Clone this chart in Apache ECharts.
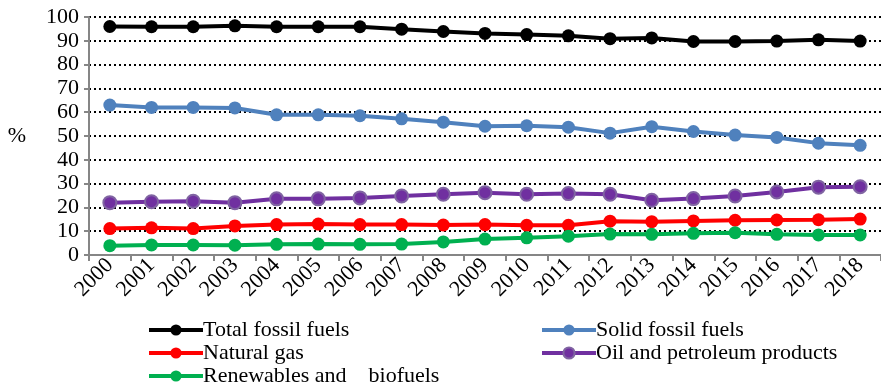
<!DOCTYPE html>
<html lang="en">
<head>
    <meta charset="UTF-8">
    <title>Fossil fuels share</title>
    <script src="https://cdn.jsdelivr.net/npm/echarts@6/dist/echarts.min.js"></script>
    <style type="text/css">
        body{
            margin: 0px;
            padding: 0px;
            background: #fff;
        }
        #chart{
            width: 881px;
            height: 384px;
        }
    </style>
</head>
<body>
<div id="chart"></div>
<script type="text/javascript">
    var years = ['2000','2001','2002','2003','2004','2005','2006','2007','2008','2009',
                 '2010','2011','2012','2013','2014','2015','2016','2017','2018'];
    var totalFossil = [96.0, 95.9, 95.9, 96.3, 95.9, 95.9, 95.9, 94.9, 93.9, 93.1,
                       92.6, 92.1, 90.9, 91.2, 89.7, 89.7, 89.9, 90.4, 89.9];
    var solidFossil = [63.0, 62.0, 62.0, 61.8, 58.9, 58.9, 58.5, 57.2, 55.8, 54.1,
                       54.3, 53.7, 51.2, 53.9, 51.9, 50.4, 49.4, 47.0, 46.1];
    var naturalGas = [11.1, 11.4, 11.1, 12.2, 12.8, 13.0, 12.8, 12.8, 12.6, 12.8,
                      12.5, 12.5, 14.2, 14.0, 14.3, 14.6, 14.7, 14.8, 15.1];
    var oilProducts = [22.0, 22.4, 22.6, 22.0, 23.6, 23.6, 24.0, 24.8, 25.5, 26.2,
                       25.5, 25.8, 25.5, 23.0, 23.7, 24.8, 26.5, 28.5, 28.7];
    var renewables = [3.9, 4.2, 4.2, 4.1, 4.5, 4.6, 4.5, 4.6, 5.5, 6.7,
                      7.2, 7.9, 8.8, 8.7, 9.1, 9.4, 8.7, 8.4, 8.4];
    var yTicks = [0, 10, 20, 30, 40, 50, 60, 70, 80, 90, 100];

    var font = '"Liberation Serif", "Times New Roman", serif';

    function makeSeries(name, data, color, border) {
        return {
            name: name,
            type: 'line',
            data: data,
            symbol: 'circle',
            symbolSize: 13,
            lineStyle: {color: color, width: 4},
            itemStyle: {color: color, borderColor: border || color, borderWidth: border ? 2 : 0},
            emphasis: {disabled: true}
        };
    }

    // one legend per entry so the 2-column layout is fixed
    function makeLegend(name, left, top) {
        return {
            left: left,
            top: top,
            itemWidth: 54,
            itemHeight: 14,
            lineStyle: {width: 4},
            textStyle: {fontFamily: font, fontSize: 22, color: '#000', padding: [0, 0, 0, -5]},
            data: [name]
        };
    }

    var myChart = echarts.init(document.getElementById('chart'));
    myChart.setOption({
        animation: false,
        textStyle: {fontFamily: font, color: '#000'},
        grid: {left: 89, top: 17, bottom: 129, right: -4, containLabel: false},
        legend: [
            makeLegend('Total fossil fuels', 142, 314),
            makeLegend('Natural gas', 142, 337),
            makeLegend('Renewables and    biofuels', 142, 360),
            makeLegend('Solid fossil fuels', 535, 314),
            makeLegend('Oil and petroleum products', 535, 337)
        ],
        xAxis: {
            type: 'category',
            data: years,
            boundaryGap: true,
            axisLine: {lineStyle: {color: '#868686', width: 2}},
            axisTick: {show: true, length: 6, lineStyle: {color: '#868686', width: 2}},
            axisLabel: {rotate: 45, fontSize: 22, fontFamily: font, color: '#000', margin: 7, interval: 0}
        },
        yAxis: {
            type: 'value',
            min: yTicks[0],
            max: yTicks[yTicks.length - 1],
            interval: 10,
            name: '%',
            nameLocation: 'middle',
            nameRotate: 0,
            nameGap: 63,
            nameTextStyle: {fontSize: 22, fontFamily: font, color: '#000', padding: [8, 0, 0, 0]},
            axisLine: {show: true, lineStyle: {color: '#868686', width: 2}},
            axisTick: {show: true, length: 5, lineStyle: {color: '#868686', width: 2}},
            axisLabel: {fontSize: 22, fontFamily: font, color: '#000', margin: 10},
            splitLine: {lineStyle: {color: '#000', type: [2, 3], width: 2}}
        },
        series: [
            makeSeries('Total fossil fuels', totalFossil, '#000000'),
            makeSeries('Solid fossil fuels', solidFossil, '#4F81BD'),
            makeSeries('Natural gas', naturalGas, '#FF0000'),
            makeSeries('Oil and petroleum products', oilProducts, '#7030A0', '#8064A2'),
            makeSeries('Renewables and    biofuels', renewables, '#00B050')
        ]
    });
</script>
</body>
</html>
